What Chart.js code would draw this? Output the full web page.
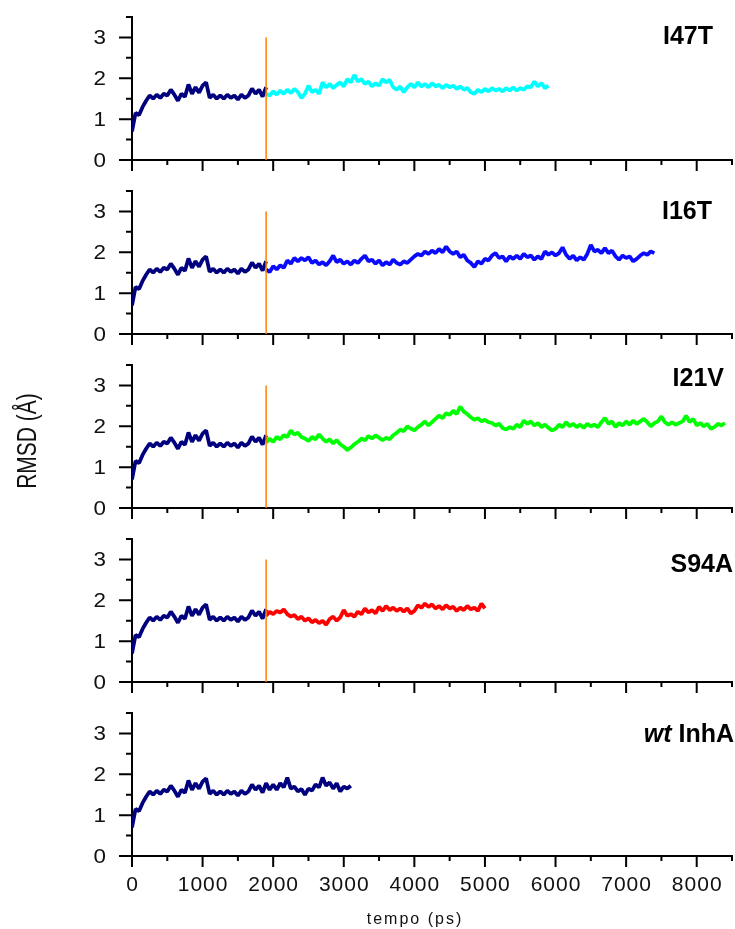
<!DOCTYPE html>
<html>
<head>
<meta charset="utf-8">
<title>RMSD InhA</title>
<script src="https://cdn.jsdelivr.net/npm/chart.js@4.4.1/dist/chart.umd.min.js"></script>
<style>
  html, body { margin: 0; padding: 0; background: #fff; }
  #fig { position: relative; width: 735px; height: 929px; overflow: hidden; }
  #fig canvas { position: absolute; left: 0; }
</style>
</head>
<body>
<div id="fig"></div>
<script>
// ---- data: RMSD (Å) sampled every STEP_PS picoseconds ----
const STEP_PS = 50;
const SPLIT_PS = 1900;          // mutant runs branch off the wild-type trajectory here
const X_TICKS = [0, 1000, 2000, 3000, 4000, 5000, 6000, 7000, 8000];
const Y_TICKS = [0, 1, 2, 3];
const PANEL_NAMES = ['I47T', 'I16T', 'I21V', 'S94A', 'wt InhA'];

// wild type, starts at 0 ps
const wtRmsd = [
  0.70, 1.15, 1.10, 1.30, 1.45, 1.58, 1.50, 1.60, 1.52, 1.62,
  1.58, 1.72, 1.60, 1.45, 1.62, 1.55, 1.85, 1.62, 1.78, 1.65,
  1.82, 1.90, 1.52, 1.60, 1.50, 1.58, 1.50, 1.60, 1.52, 1.58,
  1.48, 1.60, 1.52, 1.58, 1.75, 1.62, 1.72, 1.55, 1.78, 1.62,
  1.75, 1.62, 1.78, 1.68, 1.92, 1.65, 1.70, 1.58, 1.64, 1.50,
  1.65, 1.60, 1.75, 1.68, 1.92, 1.72, 1.80, 1.65, 1.78, 1.58,
  1.70, 1.65, 1.72
];

// mutants, start at SPLIT_PS
const i47tRmsd = [
  1.62, 1.58, 1.68, 1.60, 1.70, 1.62, 1.72, 1.64, 1.74, 1.66,
  1.52, 1.62, 1.82, 1.66, 1.72, 1.62, 1.90, 1.78, 1.86, 1.76,
  1.84, 1.90, 1.80, 1.98, 1.90, 2.08, 1.92, 1.98, 1.86, 1.92,
  1.80, 1.88, 1.82, 1.98, 1.90, 1.96, 1.78, 1.72, 1.80, 1.66,
  1.78, 1.86, 1.78, 1.90, 1.80, 1.86, 1.78, 1.88, 1.80, 1.84,
  1.76, 1.84, 1.78, 1.82, 1.74, 1.80, 1.72, 1.76, 1.66, 1.62,
  1.72, 1.66, 1.74, 1.68, 1.76, 1.70, 1.74, 1.68, 1.76, 1.70,
  1.78, 1.70, 1.76, 1.72, 1.80, 1.78, 1.92, 1.80, 1.88, 1.76,
  1.82
];

const i16tRmsd = [
  1.58, 1.52, 1.66, 1.58, 1.68, 1.62, 1.80, 1.72, 1.86, 1.78,
  1.86, 1.80, 1.88, 1.74, 1.80, 1.70, 1.76, 1.68, 1.78, 1.92,
  1.76, 1.82, 1.72, 1.78, 1.70, 1.80, 1.74, 1.84, 1.92, 1.78,
  1.82, 1.72, 1.80, 1.68, 1.76, 1.70, 1.82, 1.74, 1.70, 1.78,
  1.74, 1.82, 1.90, 1.96, 1.92, 2.02, 1.96, 2.04, 1.98, 2.08,
  2.00, 2.14, 2.02, 1.96, 2.02, 1.88, 1.94, 1.80, 1.74, 1.64,
  1.78, 1.72, 1.84, 1.80, 1.92, 1.98, 1.86, 1.90, 1.78, 1.90,
  1.84, 1.92, 1.84, 1.96, 1.88, 1.92, 1.82, 1.90, 1.84, 2.02,
  1.94, 2.00, 1.92, 1.98, 2.12, 1.94, 1.84, 1.92, 1.80, 1.88,
  1.82, 1.96, 2.18, 2.02, 2.06, 1.98, 2.10, 1.98, 2.04, 1.90,
  1.82, 1.92, 1.86, 1.90, 1.78, 1.84, 1.92, 1.98, 1.94, 2.02,
  1.98
];

const i21vRmsd = [
  1.60, 1.70, 1.62, 1.74, 1.68, 1.78, 1.74, 1.90, 1.80, 1.84,
  1.74, 1.70, 1.64, 1.74, 1.68, 1.80, 1.70, 1.62, 1.68, 1.58,
  1.66, 1.56, 1.50, 1.42, 1.48, 1.56, 1.62, 1.70, 1.66, 1.76,
  1.70, 1.78, 1.72, 1.66, 1.72, 1.68, 1.78, 1.84, 1.92, 1.88,
  2.00, 1.94, 1.90, 1.98, 2.04, 2.12, 2.02, 2.10, 2.18, 2.26,
  2.20, 2.32, 2.28, 2.38, 2.30, 2.48, 2.36, 2.30, 2.22, 2.16,
  2.20, 2.12, 2.16, 2.10, 2.08, 2.02, 2.06, 1.96, 1.92, 1.98,
  1.94, 2.04, 1.98, 2.14, 2.06, 2.12, 2.02, 2.08, 1.98, 2.04,
  1.96, 1.90, 1.94, 2.04, 1.98, 2.10, 2.00, 2.06, 1.98, 2.04,
  1.96, 2.06, 2.00, 2.04, 1.98, 2.10, 2.20, 2.06, 2.12, 1.98,
  2.08, 2.02, 2.12, 2.04, 2.14, 2.06, 2.12, 2.18, 2.10, 2.00,
  2.08, 2.12, 2.24, 2.10, 2.04, 2.10, 2.04, 2.08, 2.12, 2.26,
  2.10, 2.18, 2.02, 2.08, 2.00, 2.06, 1.94, 1.98, 2.06, 2.02,
  2.08
];

const s94aRmsd = [
  1.62, 1.72, 1.66, 1.74, 1.70, 1.78, 1.66, 1.60, 1.64, 1.54,
  1.60, 1.50, 1.56, 1.46, 1.52, 1.44, 1.50, 1.40, 1.54, 1.60,
  1.50, 1.58, 1.76, 1.62, 1.66, 1.60, 1.72, 1.66, 1.80, 1.70,
  1.76, 1.68, 1.84, 1.74, 1.86, 1.76, 1.82, 1.74, 1.80, 1.72,
  1.80, 1.68, 1.74, 1.88, 1.82, 1.92, 1.84, 1.90, 1.80, 1.86,
  1.78, 1.88, 1.80, 1.84, 1.74, 1.82, 1.76, 1.86, 1.78, 1.82,
  1.74, 1.92, 1.80
];

// ---- drawing ----
const FONT = '"Liberation Sans", Arial, sans-serif';
const X_MAX = 8500, Y_MAX = 3.5;
const WT_COLOR = '#00007f';
const SPLIT_COLOR = '#ff8000';

function toPoints(values, startPs) {
  return values.map((v, i) => ({ x: startPs + i * STEP_PS, y: v }));
}

const panels = [
  { name: PANEL_NAMES[0], values: i47tRmsd, color: '#00ffff', top: 0,   height: 174, titleX: 713, titleY: 44 },
  { name: PANEL_NAMES[1], values: i16tRmsd, color: '#0a0aff', top: 174, height: 174, titleX: 712, titleY: 45 },
  { name: PANEL_NAMES[2], values: i21vRmsd, color: '#00ff00', top: 348, height: 174, titleX: 724, titleY: 38 },
  { name: PANEL_NAMES[3], values: s94aRmsd, color: '#ff0000', top: 522, height: 174, titleX: 733, titleY: 50 },
  { name: PANEL_NAMES[4], values: null,     color: null,      top: 696, height: 233, titleX: 734, titleY: 46 }
];

const PLOT_TOP = 17, PLOT_BOTTOM = 160, PLOT_LEFT = 132, PLOT_RIGHT = 732;

// axis lines, tick marks, tick labels and captions, placed through the chart's scales
const axesPlugin = {
  id: 'axesFrame',
  beforeDatasetsDraw(chart, args, opts) {
    const { ctx, chartArea: a, scales: { x, y } } = chart;
    ctx.save();
    ctx.strokeStyle = '#000';
    ctx.lineWidth = 2;
    ctx.beginPath();
    ctx.moveTo(a.left, y.getPixelForValue(Y_MAX) - 1);
    ctx.lineTo(a.left, a.bottom);
    ctx.lineTo(x.getPixelForValue(X_MAX) + 1, a.bottom);
    for (let v = 0; v <= X_MAX; v += 500) {
      const px = x.getPixelForValue(v);
      const len = X_TICKS.includes(v) ? 11 : 5;
      ctx.moveTo(px, a.bottom);
      ctx.lineTo(px, a.bottom + len);
    }
    for (let v = 0; v <= Y_MAX + 1e-9; v += 0.5) {
      const py = y.getPixelForValue(v);
      const len = Y_TICKS.includes(v) ? 13 : 6;
      ctx.moveTo(a.left, py);
      ctx.lineTo(a.left - len, py);
    }
    ctx.stroke();

    ctx.fillStyle = '#111';
    ctx.font = '20px ' + FONT;
    ctx.textAlign = 'right';
    ctx.textBaseline = 'middle';
    Y_TICKS.forEach(v => {
      ctx.save();
      ctx.translate(a.left - 26, y.getPixelForValue(v) + 1);
      ctx.scale(1.12, 1);
      ctx.fillText(String(v), 0, 0);
      ctx.restore();
    });
    if (opts.xLabels) {
      ctx.font = '21px ' + FONT;
      ctx.textAlign = 'center';
      ctx.textBaseline = 'alphabetic';
      ctx.letterSpacing = '1px';
      X_TICKS.forEach(v => ctx.fillText(String(v), x.getPixelForValue(v) + 0.5, a.bottom + 35));
    }
    ctx.restore();
  },
  afterDraw(chart, args, opts) {
    const { ctx } = chart;
    ctx.save();
    ctx.fillStyle = '#000';
    ctx.textAlign = 'right';
    ctx.textBaseline = 'alphabetic';
    if (opts.name === 'wt InhA') {
      ctx.font = 'bold 25px ' + FONT;
      ctx.fillText('InhA', opts.titleX, opts.titleY);
      const w = ctx.measureText(' InhA').width;
      ctx.font = 'italic bold 25px ' + FONT;
      ctx.fillText('wt', opts.titleX - w, opts.titleY);
    } else {
      ctx.font = 'bold 25px ' + FONT;
      ctx.fillText(opts.name, opts.titleX, opts.titleY);
    }
    if (opts.yTitle) {
      ctx.save();
      ctx.translate(28, opts.yTitleY);
      ctx.rotate(-Math.PI / 2);
      ctx.scale(1, 1.3);
      ctx.textAlign = 'center';
      ctx.textBaseline = 'middle';
      ctx.font = '21px ' + FONT;
      ctx.fillStyle = '#111';
      ctx.fillText(opts.yTitle, 0, 0);
      ctx.restore();
    }
    if (opts.xTitle) {
      ctx.textAlign = 'center';
      ctx.font = '16px ' + FONT;
      ctx.letterSpacing = '2px';
      ctx.fillStyle = '#111';
      ctx.fillText(opts.xTitle, 415, opts.xTitleY);
    }
    ctx.restore();
  }
};

const fig = document.getElementById('fig');

panels.forEach((p, idx) => {
  const canvas = document.createElement('canvas');
  canvas.width = 735;
  canvas.height = p.height;
  canvas.style.top = p.top + 'px';
  canvas.style.width = '735px';
  canvas.style.height = p.height + 'px';
  fig.appendChild(canvas);

  const isLast = idx === panels.length - 1;
  const datasets = [];
  if (isLast) {
    datasets.push({ data: toPoints(wtRmsd, 0), borderColor: WT_COLOR, order: 2 });
  } else {
    const nWt = SPLIT_PS / STEP_PS + 1;
    datasets.push({ data: toPoints(wtRmsd.slice(0, nWt), 0), borderColor: WT_COLOR, order: 2 });
    datasets.push({ data: toPoints(p.values, SPLIT_PS), borderColor: p.color, order: 1 });
    datasets.push({ data: [{ x: SPLIT_PS, y: 0 }, { x: SPLIT_PS, y: 3 }], borderColor: SPLIT_COLOR, borderWidth: 1.5, order: 0 });
  }

  new Chart(canvas, {
    type: 'line',
    data: { datasets },
    plugins: [axesPlugin],
    options: {
      responsive: false,
      animation: false,
      events: [],
      layout: {
        padding: {
          left: PLOT_LEFT,
          right: 735 - PLOT_RIGHT,
          top: PLOT_TOP,
          bottom: p.height - PLOT_BOTTOM
        }
      },
      elements: {
        point: { radius: 0 },
        line: { borderWidth: 3.8, tension: 0, borderJoinStyle: 'bevel', borderCapStyle: 'butt' }
      },
      plugins: {
        legend: { display: false },
        tooltip: { enabled: false },
        axesFrame: {
          name: p.name,
          titleX: p.titleX,
          titleY: p.titleY,
          xLabels: isLast,
          yTitle: idx === 2 ? 'RMSD (Å)' : null,
          yTitleY: 93,
          xTitle: isLast ? 'tempo (ps)' : null,
          xTitleY: 228
        }
      },
      scales: {
        x: { type: 'linear', display: false, min: 0, max: X_MAX },
        y: { type: 'linear', display: false, min: 0, max: Y_MAX }
      }
    }
  });
});
</script>
</body>
</html>
